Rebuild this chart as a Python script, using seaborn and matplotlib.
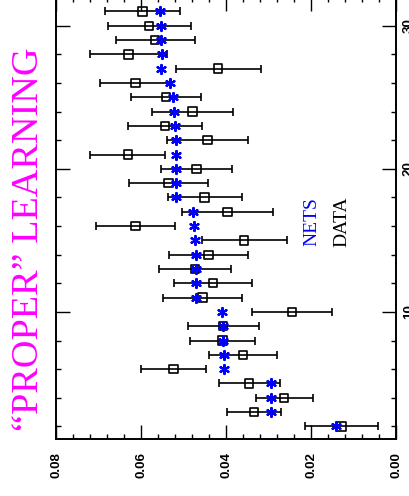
import numpy as np
import pandas as pd
import matplotlib
matplotlib.use("Agg")
import matplotlib.pyplot as plt
import seaborn as sns
from matplotlib.ticker import MultipleLocator, FixedLocator

# ---- data ----
index = list(range(2, 32))
data_vals = [0.0129, 0.0335, 0.0264, 0.0346, 0.0524, 0.0360, 0.0409, 0.0407, 0.0245, 0.0456,
             0.0431, 0.0474, 0.0442, 0.0358, 0.0613, 0.0397, 0.0451, 0.0536, 0.0470, 0.0631,
             0.0444, 0.0544, 0.0479, 0.0542, 0.0613, 0.0419, 0.0630, 0.0567, 0.0581, 0.0597]
data_err = [0.0085, 0.0063, 0.0067, 0.0072, 0.0077, 0.0080, 0.0076, 0.0084, 0.0094, 0.0092,
            0.0092, 0.0084, 0.0093, 0.0100, 0.0092, 0.0107, 0.0087, 0.0093, 0.0084, 0.0088,
            0.0095, 0.0086, 0.0095, 0.0082, 0.0083, 0.0100, 0.0091, 0.0093, 0.0098, 0.0088]
nets_vals = [0.0142, 0.0295, 0.0295, 0.0295, 0.0406, 0.0406, 0.0407, 0.0407, 0.0409, 0.0470,
             0.0470, 0.0472, 0.0472, 0.0473, 0.0475, 0.0478, 0.0518, 0.0518, 0.0518, 0.0518,
             0.0519, 0.0521, 0.0523, 0.0525, 0.0531, 0.0553, 0.0552, 0.0553, 0.0553, 0.0555]
value_ticks = [0.00, 0.02, 0.04, 0.06, 0.08]
value_labels = ["0.00", "0.02", "0.04", "0.06", "0.08"]
index_ticks = [10, 20, 30]
index_labels = ["10", "20", "30"]
title = "\u201cPROPER\u201d LEARNING"
legend_nets = "NETS"
legend_data = "DATA"

df = pd.DataFrame({"index": index, "data": data_vals, "err": data_err, "nets": nets_vals})

sns.set_theme(style="ticks")
plt.rcParams["font.family"] = ["Liberation Sans", "DejaVu Sans"]

fig = plt.figure(figsize=(4.10, 4.96), dpi=100)
ax = fig.add_axes([56 / 410, (496 - 439.3) / 496, 340.5 / 410, 442.2 / 496])

# error bars (black, capped)
ax.errorbar(df["data"], df["index"], xerr=df["err"], fmt="none", ecolor="black",
            elinewidth=1.2, capsize=3.2, capthick=1.2, zorder=2)
# data squares
sns.scatterplot(data=df, x="data", y="index", marker="s", s=36, facecolor="none",
                edgecolor="black", linewidth=1.2, ax=ax, zorder=3, legend=False)
# network predictions (blue asterisks)
sns.scatterplot(data=df, x="nets", y="index", marker=(6, 2, 0), s=42, color="#0000ff",
                edgecolor="#0000ff", linewidth=1.6, ax=ax, zorder=4, legend=False)

ax.set_xlim(0.08, 0.0)
ax.set_ylim(1.1, 32)
ax.set_xlabel("")
ax.set_ylabel("")

ax.xaxis.set_major_locator(FixedLocator(value_ticks))
ax.set_xticklabels(value_labels, rotation=90, fontweight="bold", fontsize=9.6)
ax.xaxis.set_minor_locator(MultipleLocator(0.004))
ax.yaxis.set_major_locator(FixedLocator(index_ticks))
ax.yaxis.set_minor_locator(MultipleLocator(2))
ax.yaxis.tick_right()
ax.set_yticklabels(index_labels, rotation=90, fontweight="bold", fontsize=9.6, va="center")

ax.tick_params(which="both", direction="in", top=True, bottom=True, left=True, right=True,
               color="black", width=1.0)
ax.tick_params(which="major", length=10)
ax.tick_params(which="minor", length=3.6)
ax.tick_params(axis="x", which="major", pad=9, labelcolor="black")
ax.tick_params(axis="y", which="major", pad=4.5, labelright=True, labelleft=False, labelcolor="black")

for sp in ax.spines.values():
    sp.set_visible(True)
    sp.set_linewidth(1.4)
    sp.set_color("black")

fig.text(29 / 410, (496 - 239) / 496, title, rotation=90, ha="center", va="center",
         color="#ff00ff", fontsize=27.5, family=["Liberation Serif", "DejaVu Serif"])
fig.text(312 / 410, (496 - 222) / 496, legend_nets, rotation=90, ha="center", va="center",
         color="#0000ff", fontsize=14, family=["Liberation Serif", "DejaVu Serif"])
fig.text(342 / 410, (496 - 222) / 496, legend_data, rotation=90, ha="center", va="center",
         color="black", fontsize=14, family=["Liberation Serif", "DejaVu Serif"])

fig.savefig("out.png", dpi=100)
